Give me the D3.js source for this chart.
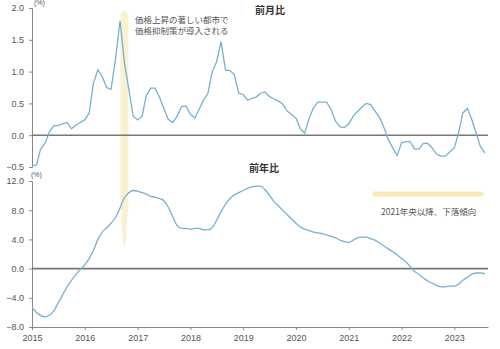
<!DOCTYPE html>
<html>
<head>
<meta charset="utf-8">
<script src="https://cdn.jsdelivr.net/npm/d3@7"></script>
<style>
  body { margin: 0; background: #fff; }
  svg { display: block; }
  .tick text { font-family: "Liberation Sans", Arial, sans-serif; font-size: 9px; fill: #555; }
  .jp { font-family: "Noto Sans CJK JP", sans-serif; }
</style>
</head>
<body>
<svg width="500" height="349"></svg>
<script>
// monthly, Jan 2015 .. Aug 2023
var momValues = [
  -0.48, -0.47, -0.22, -0.13, 0.05, 0.15, 0.15, 0.18, 0.20, 0.10, 0.16, 0.20,
  0.24, 0.35, 0.82, 1.03, 0.92, 0.75, 0.72, 1.20, 1.80, 1.15, 0.72, 0.30,
  0.24, 0.30, 0.62, 0.74, 0.74, 0.60, 0.42, 0.25, 0.20, 0.30, 0.45, 0.46,
  0.33, 0.27, 0.40, 0.55, 0.65, 1.00, 1.15, 1.47, 1.02, 1.02, 0.95, 0.66,
  0.64, 0.55, 0.58, 0.60, 0.66, 0.68, 0.61, 0.57, 0.54, 0.49, 0.38, 0.33,
  0.27, 0.10, 0.03, 0.26, 0.43, 0.52, 0.52, 0.52, 0.40, 0.22, 0.13, 0.12,
  0.18, 0.30, 0.37, 0.44, 0.50, 0.48, 0.38, 0.28, 0.12, -0.07, -0.20, -0.32,
  -0.12, -0.10, -0.10, -0.22, -0.22, -0.13, -0.13, -0.20, -0.30, -0.33, -0.33, -0.26,
  -0.20, 0.05, 0.35, 0.42, 0.25, 0.03, -0.18, -0.28
];
var yoyValues = [
  -5.3, -6.0, -6.4, -6.6, -6.4, -5.8, -4.7, -3.6, -2.5, -1.6, -0.8, -0.1,
  0.5, 1.4, 2.5, 4.0, 5.0, 5.6, 6.2, 7.0, 8.3, 9.7, 10.4, 10.7,
  10.6, 10.4, 10.2, 9.9, 9.8, 9.6, 9.3, 8.4, 7.1, 5.9, 5.5, 5.5,
  5.4, 5.5, 5.5, 5.3, 5.3, 5.6, 6.6, 7.8, 8.8, 9.6, 10.1, 10.4,
  10.7, 11.0, 11.2, 11.3, 11.3, 10.8, 10.1, 9.2, 8.6, 8.0, 7.4, 6.8,
  6.2, 5.7, 5.4, 5.2, 5.0, 4.9, 4.8, 4.6, 4.4, 4.2, 3.9, 3.7,
  3.6, 3.9, 4.2, 4.3, 4.3, 4.1, 3.9, 3.5, 3.1, 2.7, 2.3, 1.9,
  1.4, 0.9, 0.3, -0.4, -0.8, -1.3, -1.7, -2.0, -2.3, -2.5, -2.5, -2.4,
  -2.4, -2.1, -1.6, -1.2, -0.8, -0.6, -0.6, -0.7
];
var momTicks = [-0.5, 0, 0.5, 1.0, 1.5, 2.0];
var yoyTicks = [-8, -4, 0, 4, 8, 12];
var years = [2015, 2016, 2017, 2018, 2019, 2020, 2021, 2022, 2023];

var months = momValues.map(function(d, i) { return new Date(2015, i, 1); });

var svg = d3.select("svg");
var lineColor = "#78b0d0";
var axisColor = "#888";

var x = d3.scaleTime()
  .domain([new Date(2015, 0, 1), new Date(2023, 7, 22)])
  .range([32, 488]);

var yTop = d3.scaleLinear().domain([-0.5, 2.0]).range([167, 8]);
var yBot = d3.scaleLinear().domain([-8, 12]).range([327, 181]);

// highlight band (price control introduced)
var bx = x(new Date(2016, 9, 1));
svg.append("path")
  .attr("d", "M" + (bx - 4) + ",16 Q" + bx + ",6 " + (bx + 4) + ",16 L" + (bx + 4) + ",205 L" + (bx + 0.8) + ",247 L" + (bx - 0.8) + ",247 L" + (bx - 4) + ",205 Z")
  .attr("fill", "#f9edc4")
  .attr("opacity", 0.8);

// downward trend arrow
var ax0 = x(new Date(2021, 5, 15)), ax1 = x(new Date(2023, 7, 1));
svg.append("path")
  .attr("d", "M" + ax0 + ",191.5 L" + (ax1 - 4) + ",191.5 L" + ax1 + ",194 L" + (ax1 - 4) + ",196.5 L" + ax0 + ",196.5 Z")
  .attr("fill", "#fbe8b9");

// y axes
var gTop = svg.append("g").attr("transform", "translate(32,0)")
  .call(d3.axisLeft(yTop).tickValues(momTicks).tickFormat(d3.format(".1f")).tickSize(3));
var gBot = svg.append("g").attr("transform", "translate(32,0)")
  .call(d3.axisLeft(yBot).tickValues(yoyTicks).tickFormat(d3.format(".1f")).tickSize(3));
[gTop, gBot].forEach(function(g) {
  g.selectAll(".domain, line").attr("stroke", axisColor);
  g.selectAll("text").attr("dx", "-2");
});

// x axis
var gx = svg.append("g").attr("transform", "translate(0," + yBot(-8) + ")")
  .call(d3.axisBottom(x)
    .tickValues(years.map(function(y) { return new Date(y, 0, 1); }))
    .tickFormat(d3.timeFormat("%Y"))
    .tickSize(3).tickSizeOuter(0));
gx.selectAll(".domain, line").attr("stroke", axisColor);
gx.selectAll("text").attr("dy", "0.9em");

// zero lines
svg.append("line").attr("x1", 32).attr("x2", 488)
  .attr("y1", yTop(0)).attr("y2", yTop(0))
  .attr("stroke", "#777").attr("stroke-width", 1.6);
svg.append("line").attr("x1", 32).attr("x2", 488)
  .attr("y1", yBot(0)).attr("y2", yBot(0))
  .attr("stroke", "#777").attr("stroke-width", 1.6);

// series
var lineTop = d3.line().x(function(d, i) { return x(months[i]); }).y(function(d) { return yTop(d); });
var lineBot = d3.line().curve(d3.curveMonotoneX)
  .x(function(d, i) { return x(months[i]); }).y(function(d) { return yBot(d); });

svg.append("path").datum(momValues).attr("d", lineTop)
  .attr("fill", "none").attr("stroke", lineColor).attr("stroke-width", 1.3);
svg.append("path").datum(yoyValues).attr("d", lineBot)
  .attr("fill", "none").attr("stroke", lineColor).attr("stroke-width", 1.3);

// units
svg.append("text").attr("x", 34).attr("y", 5).text("(%)")
  .style("font-family", "Liberation Sans, sans-serif").style("font-size", "7px").attr("fill", "#555");
svg.append("text").attr("x", 31).attr("y", 177).text("(%)")
  .style("font-family", "Liberation Sans, sans-serif").style("font-size", "7px").attr("fill", "#555");

// titles
svg.append("text").attr("class", "jp").attr("x", 270).attr("y", 14)
  .attr("text-anchor", "middle").style("font-size", "10px").style("font-weight", "bold")
  .attr("fill", "#333").text("前月比");
svg.append("text").attr("class", "jp").attr("x", 264).attr("y", 172)
  .attr("text-anchor", "middle").style("font-size", "10px").style("font-weight", "bold")
  .attr("fill", "#333").text("前年比");

// annotations
var note = svg.append("text").attr("class", "jp").style("font-size", "8.5px").attr("fill", "#555");
note.append("tspan").attr("x", 135).attr("y", 23).text("価格上昇の著しい都市で");
note.append("tspan").attr("x", 135).attr("y", 34).text("価格抑制策が導入される");

svg.append("text").attr("class", "jp").attr("x", 381).attr("y", 215)
  .style("font-size", "8.5px").attr("fill", "#555").text("2021年央以降、下落傾向");
</script>
</body>
</html>
